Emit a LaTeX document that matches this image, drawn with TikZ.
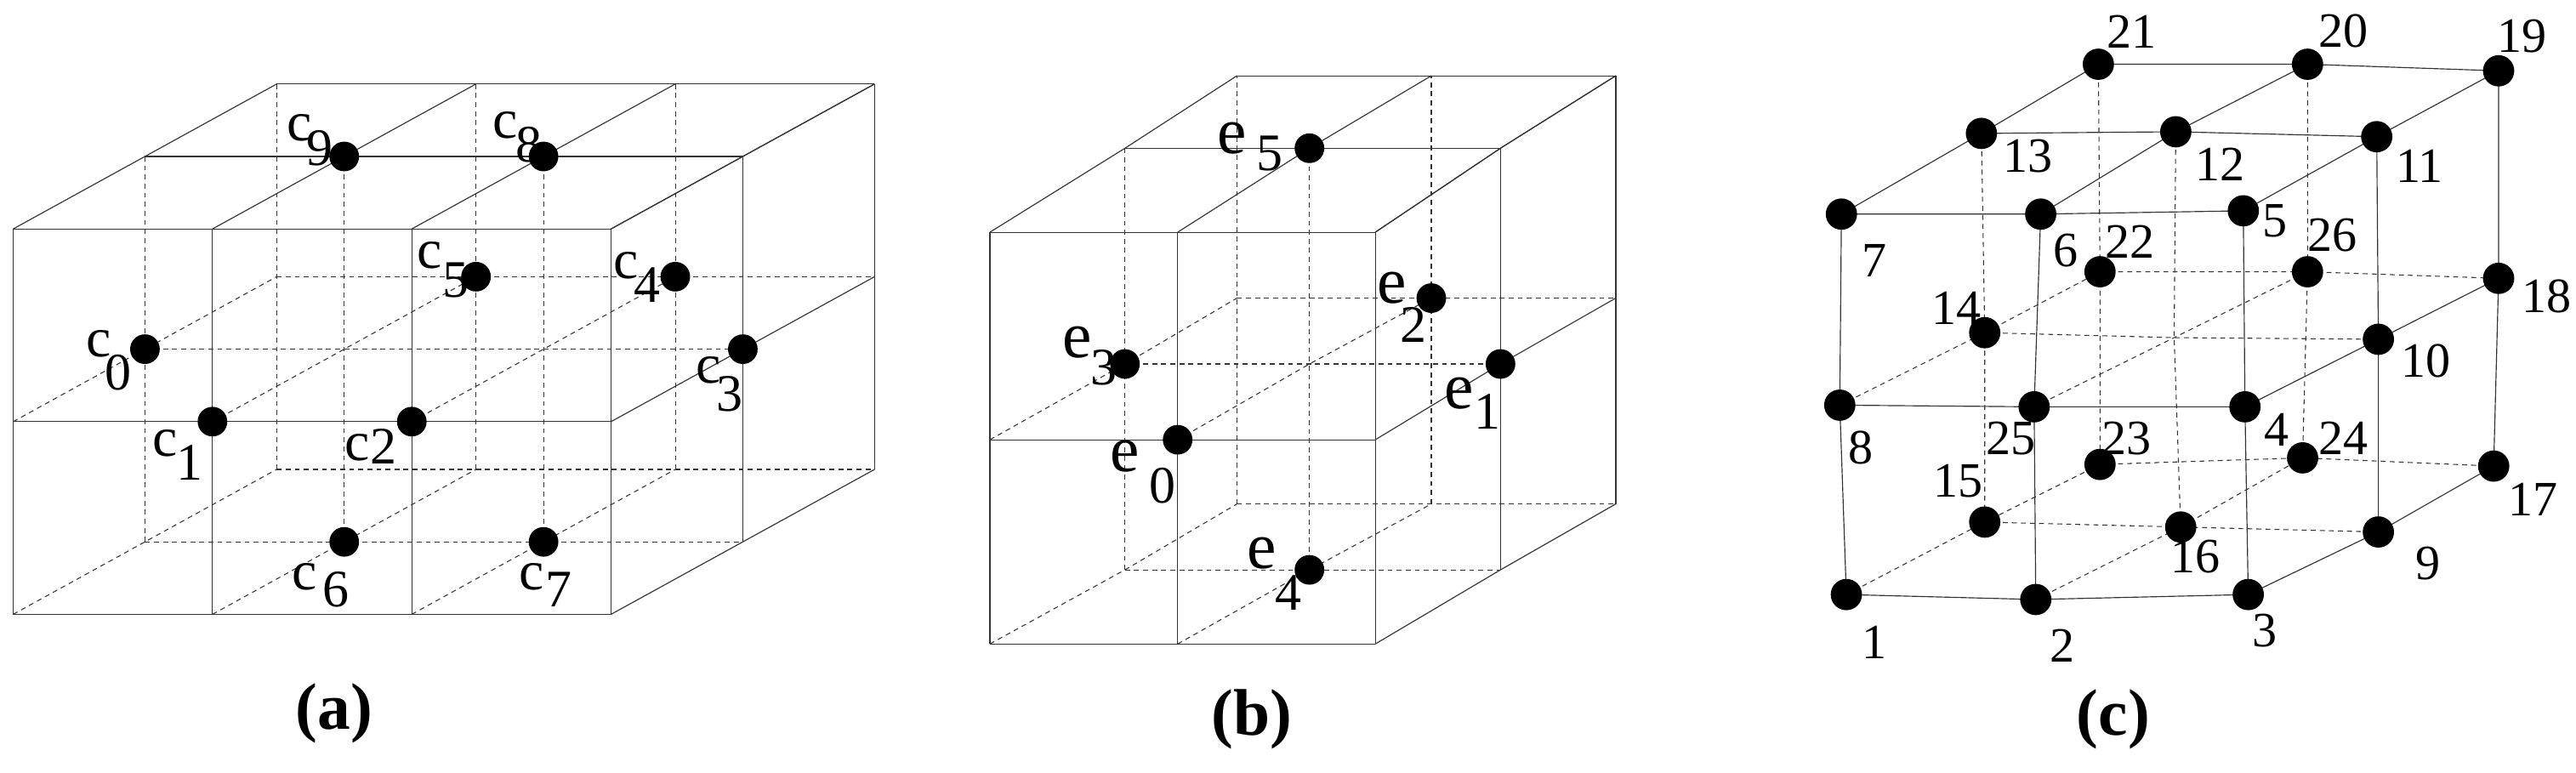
\documentclass[tikz,border=0pt]{standalone}
\usepackage{fontspec}
\setmainfont{Liberation Serif}
\begin{document}
\begin{tikzpicture}[x=1pt,y=1pt,
  edge/.style={line width=0.6pt,black!80},
  hid/.style={line width=0.55pt,black!80,dash pattern=on 3pt off 2.5pt},
  dot/.style={circle,fill=black,inner sep=0pt,minimum size=18pt},
  lab/.style={inner sep=0pt,font=\fontsize{30}{30}\selectfont},
  let/.style={inner sep=0pt,anchor=center,font=\fontsize{34}{34}\selectfont},
  dg/.style={inner sep=0pt,anchor=center,font=\fontsize{32}{32}\selectfont},
  ttl/.style={inner sep=0pt,font=\fontsize{40}{40}\selectfont\bfseries}]
\useasboundingbox (0,0) rectangle (1564,-469);
% ---------------- (a) ----------------
\begin{scope}[shift={(8,-373)},x={(121pt,0pt)},y={(0pt,117pt)},z={(80pt,44pt)}]
 \foreach \j in {0,1,2} \draw[edge] (0,\j,0) -- (3,\j,0);
 \foreach \i in {0,...,3} \draw[edge] (\i,0,0) -- (\i,2,0);
 \foreach \i in {0,...,3} \draw[edge] (\i,2,0) -- (\i,2,2);
 \foreach \k in {1,2} \draw[edge] (0,2,\k) -- (3,2,\k);
 \foreach \j in {0,1,2} \draw[edge] (3,\j,0) -- (3,\j,2);
 \foreach \k in {1,2} \draw[edge] (3,0,\k) -- (3,2,\k);
 \foreach \k in {1,2} \foreach \j in {0,1} \draw[hid] (0,\j,\k) -- (3,\j,\k);
 \foreach \k in {1,2} \foreach \i in {0,1,2} \draw[hid] (\i,0,\k) -- (\i,2,\k);
 \foreach \i in {0,1,2} \foreach \j in {0,1} \draw[hid] (\i,\j,0) -- (\i,\j,2);
 \node[dot] (a9) at (1,2,1) {};
 \node[dot] (a8) at (2,2,1) {};
 \node[dot] (a5) at (1,1,2) {};
 \node[dot] (a4) at (2,1,2) {};
 \node[dot] (a0) at (0,1,1) {};
 \node[dot] (a1) at (1,1,0) {};
 \node[dot] (a2) at (2,1,0) {};
 \node[dot] (a3) at (3,1,1) {};
 \node[dot] (a6) at (1,0,1) {};
 \node[dot] (a7) at (2,0,1) {};
\end{scope}
\foreach \n/\cx/\cy/\dx/\dy in {9/182/77.6/194/90, 8/307/76/321/88, 5/261/155/277/170,
  4/380/161/393/173, 0/60/209/72/226, 1/100/269/115/281, 2/217/272/233/271,
  3/430/225/443/239, 6/185/350/204/358, 7/323/350/339/358}{
  \node[let] (lac\n) at (\cx,-\cy) {c};
  \node[dg] (lad\n) at (\dx,-\dy) {\n};
}
\node[ttl] (ta) at (203,-433) {(a)};
% ---------------- (b) ----------------
\foreach \k/\xa/\xb/\xc/\ya/\yb/\yc in {0/601/715/835/391/267/141, 1/683/795/911/346/221/90, 2/751/869/981/306/181/46}{
  \coordinate (b-0-0-\k) at (\xa,-\ya); \coordinate (b-1-0-\k) at (\xb,-\ya); \coordinate (b-2-0-\k) at (\xc,-\ya);
  \coordinate (b-0-1-\k) at (\xa,-\yb); \coordinate (b-1-1-\k) at (\xb,-\yb); \coordinate (b-2-1-\k) at (\xc,-\yb);
  \coordinate (b-0-2-\k) at (\xa,-\yc); \coordinate (b-1-2-\k) at (\xb,-\yc); \coordinate (b-2-2-\k) at (\xc,-\yc);
}
\foreach \j in {0,1,2} \draw[edge] (b-0-\j-0) -- (b-2-\j-0);
\foreach \i in {0,1,2} \draw[edge] (b-\i-0-0) -- (b-\i-2-0);
\foreach \i in {0,1,2} \draw[edge] (b-\i-2-0) -- (b-\i-2-1) -- (b-\i-2-2);
\foreach \k in {1,2} \draw[edge] (b-0-2-\k) -- (b-2-2-\k);
\foreach \j in {0,1,2} \draw[edge] (b-2-\j-0) -- (b-2-\j-1) -- (b-2-\j-2);
\foreach \k in {1,2} \draw[edge] (b-2-0-\k) -- (b-2-2-\k);
\foreach \k in {1,2} \foreach \j in {0,1} \draw[hid] (b-0-\j-\k) -- (b-2-\j-\k);
\foreach \k in {1,2} \foreach \i in {0,1} \draw[hid] (b-\i-0-\k) -- (b-\i-2-\k);
\foreach \i in {0,1} \foreach \j in {0,1} \draw[hid] (b-\i-\j-0) -- (b-\i-\j-1) -- (b-\i-\j-2);
\node[dot] (e5) at (b-1-2-1) {};
\node[dot] (e2) at (b-1-1-2) {};
\node[dot] (e3) at (b-0-1-1) {};
\node[dot] (e1) at (b-2-1-1) {};
\node[dot] (e0) at (b-1-1-0) {};
\node[dot] (e4) at (b-1-0-1) {};
\foreach \n/\cx/\cy/\dx/\dy in {5/748/84/771/93, 2/845/175/858/197, 3/654/208/670/223,
  1/886/239/903/250, 0/683/277/706/295, 4/766/336/782/360}{
  \node[let,font=\fontsize{40}{40}\selectfont] (lbe\n) at (\cx,-\cy) {e};
  \node[dg] (lbd\n) at (\dx,-\dy) {\n};
}
\node[ttl] (tb) at (760,-437) {(b)};
% ---------------- (c) ----------------
\foreach \n/\x/\y in {1/1121/361,2/1236/364,3/1365/361,8/1117/246,25/1235/247,4/1363/247,
  7/1118/130,6/1239/130,5/1362/128,15/1205/317,16/1324/320,9/1444/323,14/1205/202,10/1444/206,
  13/1203/81,12/1321/80,11/1443/83,23/1275/282,24/1398/278,17/1514/283,22/1275/165,26/1401/165,
  18/1517/169,21/1274/39,20/1401/39,19/1517/43}
  \coordinate (p\n) at (\x,-\y);
\coordinate (pc) at (1320,-205);
\draw[edge] (p7) -- (p6) -- (p5);
\draw[edge] (p8) -- (p25) -- (p4);
\draw[edge] (p1) -- (p2) -- (p3);
\draw[edge] (p7) -- (p8) -- (p1);
\draw[edge] (p6) -- (p25) -- (p2);
\draw[edge] (p5) -- (p4) -- (p3);
\draw[edge] (p7) -- (p13) -- (p21);
\draw[edge] (p6) -- (p12) -- (p20);
\draw[edge] (p5) -- (p11) -- (p19);
\draw[edge] (p13) -- (p12) -- (p11);
\draw[edge] (p21) -- (p20) -- (p19);
\draw[edge] (p3) -- (p9) -- (p17);
\draw[edge] (p4) -- (p10) -- (p18);
\draw[edge] (p11) -- (p10) -- (p9);
\draw[edge] (p19) -- (p18) -- (p17);
\draw[hid] (p13) -- (p14) -- (p15);
\draw[hid] (p21) -- (p22) -- (p23);
\draw[hid] (p12) -- (pc) -- (p16);
\draw[hid] (p20) -- (p26) -- (p24);
\draw[hid] (p8) -- (p14) -- (p22);
\draw[hid] (p25) -- (pc) -- (p26);
\draw[hid] (p1) -- (p15) -- (p23);
\draw[hid] (p2) -- (p16) -- (p24);
\draw[hid] (p14) -- (pc) -- (p10);
\draw[hid] (p22) -- (p26) -- (p18);
\draw[hid] (p15) -- (p16) -- (p9);
\draw[hid] (p23) -- (p24) -- (p17);
\foreach \n in {1,...,26} \node[dot,minimum size=19pt] (n\n) at (p\n) {};
\foreach \n/\x/\y in {21/1294/19,20/1423/19,19/1531/22,13/1231/95,12/1348/100,11/1469/101,
  7/1138/158,6/1254/152,5/1381/134,22/1293/147,26/1416/143,18/1546/180,14/1188/187,10/1473/219,
  8/1130/272,25/1221/266,4/1382/261,23/1291/266,24/1423/266,15/1189/292,17/1538/303,16/1333/338,
  9/1474/342,1/1138/390,2/1252/392,3/1375/383}
  \node[lab] (l\n) at (\x,-\y) {\n};
\node[ttl] (tc) at (1283,-437) {(c)};
\end{tikzpicture}
\end{document}
